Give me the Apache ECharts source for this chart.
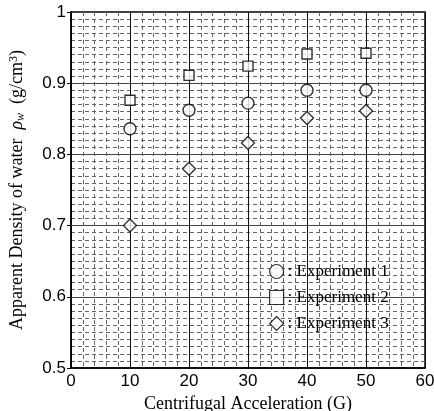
<!DOCTYPE html>
<html>
<head>
<meta charset="utf-8">
<script src="https://cdn.jsdelivr.net/npm/echarts@6/dist/echarts.min.js"></script>
<style>
  html, body { margin: 0; padding: 0; background: #fff; }
  #chart { width: 434px; height: 411px; }
</style>
</head>
<body>
<div id="chart"></div>
<script>
// Centrifugal acceleration levels (G)
const accel = [10, 20, 30, 40, 50];
// Apparent density of water (g/cm^3) for each experiment
const exp1 = [0.836, 0.862, 0.872, 0.890, 0.890];
const exp2 = [0.876, 0.911, 0.924, 0.941, 0.942];
const exp3 = [0.700, 0.780, 0.816, 0.851, 0.861];
const seriesNames = ['Experiment 1', 'Experiment 2', 'Experiment 3'];
const xTicks = [0, 10, 20, 30, 40, 50, 60];
const yTicks = [0.5, 0.6, 0.7, 0.8, 0.9, 1];

const serif = '"Liberation Serif", "DejaVu Serif", serif';
const sans = '"Liberation Sans", Arial, sans-serif';

function pairs(vals) { return accel.map((x, i) => [x, vals[i]]); }

const symbols = ['circle', 'rect', 'diamond'];
const sizes = [12, 10, 13];
const allData = [exp1, exp2, exp3];

const chart = echarts.init(document.getElementById('chart'));
chart.setOption({
  animation: false,
  backgroundColor: '#fff',
  grid: {
    left: 71, right: 9, top: 12, bottom: 43,
    outerBoundsMode: 'none',
    containLabel: false,
    show: true, borderColor: '#000', borderWidth: 1.5, backgroundColor: 'transparent'
  },
  legend: {
    orient: 'vertical',
    left: 264, top: 258,
    itemGap: 9,
    itemWidth: 14, itemHeight: 14,
    data: seriesNames.map((n, i) => ({ name: n, itemStyle: { borderWidth: 1.2 } })),
    formatter: n => ': ' + n,
    textStyle: { fontFamily: serif, fontSize: 17, color: '#000', padding: [0, 0, 0, -1] }
  },
  xAxis: {
    type: 'value',
    min: 0, max: 60, interval: 10,
    name: 'Centrifugal Acceleration (G)',
    nameLocation: 'middle', nameGap: 25,
    nameTextStyle: { fontFamily: serif, fontSize: 18, color: '#000' },
    axisLine: { lineStyle: { color: '#000', width: 1.5 } },
    axisTick: { show: false },
    axisLabel: {
      fontFamily: sans, fontSize: 17, color: '#000', margin: 5,
      formatter: v => xTicks.includes(v) ? String(v) : ''
    },
    splitLine: { show: true, lineStyle: { color: '#111', width: 1 } },
    minorTick: { show: false, splitNumber: 5 },
    minorSplitLine: { show: true, lineStyle: { color: '#666', width: 1, type: [4, 3] } }
  },
  yAxis: {
    type: 'value',
    min: 0.5, max: 1, interval: 0.1,
    name: '{n|Apparent Density of water  }{r|ρ}{s|w}{n|  (g/cm}{p|3}{n|)}',
    nameLocation: 'middle', nameGap: 44, nameRotate: 90,
    nameTextStyle: {
      rich: {
        n: { fontFamily: serif, fontSize: 18, color: '#000' },
        r: { fontFamily: serif, fontSize: 18, fontStyle: 'italic', color: '#000' },
        s: { fontFamily: serif, fontSize: 12, fontStyle: 'italic', color: '#000', verticalAlign: 'bottom', padding: [7, 0, 0, 0] },
        p: { fontFamily: serif, fontSize: 12, color: '#000', verticalAlign: 'top', padding: [0, 0, 7, 0] }
      }
    },
    axisLine: { lineStyle: { color: '#000', width: 1.5 } },
    axisTick: { show: true, inside: false, length: 4, lineStyle: { color: '#000' } },
    axisLabel: {
      fontFamily: sans, fontSize: 17, color: '#000', margin: 5,
      formatter: v => {
        const t = yTicks.find(k => Math.abs(k - v) < 1e-6);
        return t === undefined ? '' : String(t);
      }
    },
    splitLine: { show: true, lineStyle: { color: '#444', width: 1 } },
    minorTick: { show: false, splitNumber: 10 },
    minorSplitLine: { show: true, lineStyle: { color: '#666', width: 1, type: [4, 3] } }
  },
  series: seriesNames.map((name, i) => ({
    name,
    type: 'scatter',
    symbol: symbols[i],
    symbolSize: sizes[i],
    data: pairs(allData[i]),
    itemStyle: { color: '#fff', borderColor: '#000', borderWidth: 1.4 },
    z: 5
  }))
});
</script>
</body>
</html>
